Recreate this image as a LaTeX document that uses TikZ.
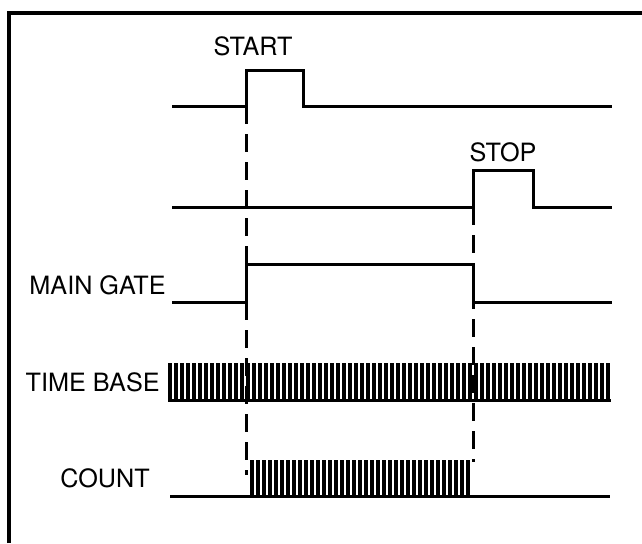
\documentclass[tikz,border=0pt]{standalone}
\usepackage{fontspec}
\setmainfont{TeX Gyre Heros}
\begin{document}
\begin{tikzpicture}[x=0.5pt,y=-0.5pt,
  sig/.style={line width=1.5pt,line join=miter},
  frame/.style={line width=1.6pt},
  guide/.style={line width=1.5pt,dash pattern=on 9pt off 5pt},
  lbl/.style={font=\fontsize{12.6}{15}\selectfont,inner sep=0pt},
  bar/.style={fill=black}]
\useasboundingbox (0,0) rectangle (642,543);
% frame (top and left edges)
\draw[frame] (9,543) -- (9,13) -- (642,13);
% START
\draw[sig] (172,106) -- (246,106) -- (246,70) -- (303,70) -- (303,106) -- (612,106);
\node[lbl] (start) at (253,46) {START};
% STOP
\draw[sig] (172,207) -- (473,207) -- (473,170) -- (533,170) -- (533,207) -- (612,207);
\node[lbl] (stop) at (503,152) {STOP};
% MAIN GATE
\draw[sig] (172,302) -- (246,302) -- (246,264) -- (473,264) -- (473,302) -- (612,302);
\node[lbl,anchor=east] (gate) at (166,285) {MAIN GATE};
% TIME BASE
\node[lbl,anchor=east] (tb) at (160,382) {TIME BASE};
\foreach \i in {0,...,73} {
  \fill[bar] ({168+6*\i},363) rectangle ({171.6+6*\i},400);
}
\draw[sig] (168,400) -- (611,400);
% COUNT
\node[lbl] (count) at (105,478) {COUNT};
\foreach \i in {0,...,36} {
  \fill[bar] ({250+6*\i},460) rectangle ({253.6+6*\i},496);
}
\draw[sig] (170,496) -- (610,496);
% guide lines
\coordinate (a1) at (246,106);
\coordinate (a2) at (246,475);
\coordinate (b1) at (473,207);
\coordinate (b2) at (473,462);
\draw[guide] (a1) -- (a2);
\draw[guide] (b1) -- (b2);
\end{tikzpicture}
\end{document}
